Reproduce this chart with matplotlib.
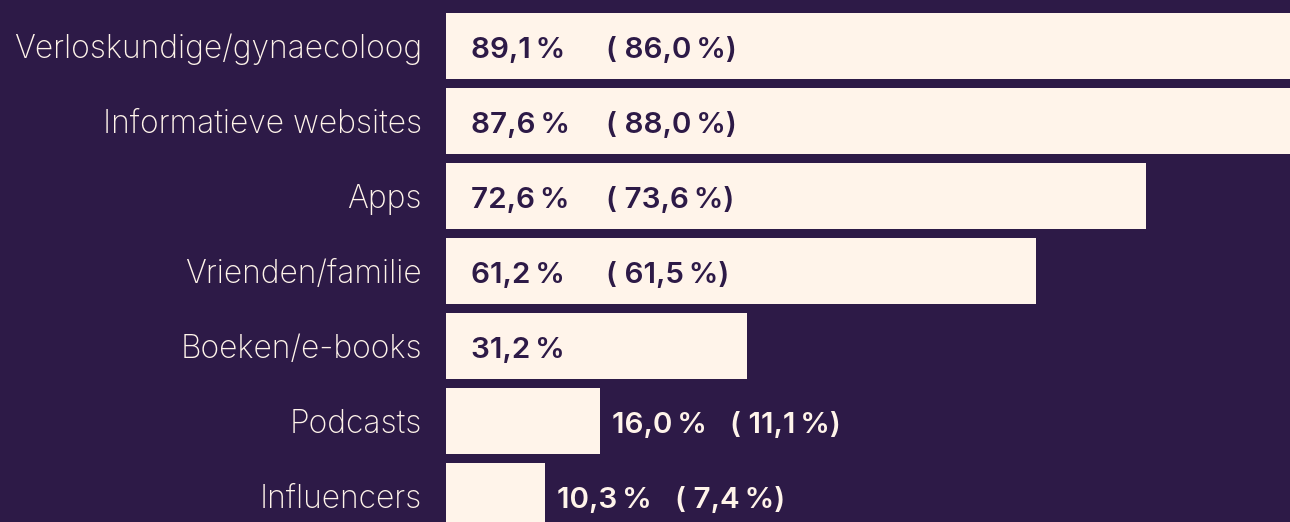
import matplotlib
matplotlib.use("Agg")
import matplotlib.pyplot as plt

categories = ["Verloskundige/gynaecoloog", "Informatieve websites", "Apps",
              "Vrienden/familie", "Boeken/e-books", "Podcasts", "Influencers"]
current = [89.1, 87.6, 72.6, 61.2, 31.2, 16.0, 10.3]
previous = [86.0, 88.0, 73.6, 61.5, None, 11.1, 7.4]

BG = "#2d1a47"
BAR = "#fff4ea"

def fmt(v):
    return f"{v:.1f}".replace(".", ",") + "\u2009%"

fig = plt.figure(figsize=(12.9, 5.22), dpi=100, facecolor=BG)
ax = fig.add_axes([446 / 1290, 0, 1 - 446 / 1290, 1])
ax.set_facecolor(BG)

y = list(range(len(categories)))
ax.barh(y, current, height=0.88, color=BAR, edgecolor="none")
ax.set_xlim(0, 87.5)
ax.set_ylim(6.347, -0.613)

for s in ax.spines.values():
    s.set_visible(False)
ax.set_xticks([])
ax.set_yticks([])

FAM = ["Inter", "DejaVu Sans"]
BASE = -8.4  # baseline offset in points from bar centre

for i, cat in enumerate(categories):
    ax.annotate(cat, (0, i), xytext=(-17.3, BASE), textcoords="offset points",
                ha="right", va="baseline", color=BAR, family=FAM,
                fontweight="light", fontsize=22.9, annotation_clip=False)

lab_font = dict(family=FAM, fontweight="semibold", fontsize=21.3, va="baseline")
for i, (c, p) in enumerate(zip(current, previous)):
    if c > 25:
        x0, off, col, gap = 0, 18, BG, 97
    else:
        x0, off, col, gap = c, 8.5, BAR, 85
    ax.annotate(fmt(c), (x0, i), xytext=(off, BASE), textcoords="offset points",
                color=col, ha="left", **lab_font)
    if p is not None:
        ax.annotate("( " + fmt(p) + ")", (x0, i), xytext=(off + gap, BASE),
                    textcoords="offset points", color=col, ha="left", **lab_font)

fig.savefig("out.png", dpi=100, facecolor=BG)
